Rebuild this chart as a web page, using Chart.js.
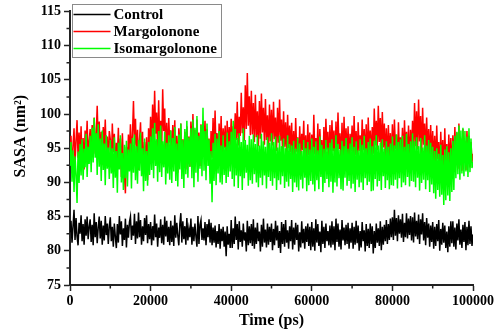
<!DOCTYPE html>
<html>
<head>
<meta charset="utf-8">
<script src="https://cdn.jsdelivr.net/npm/chart.js@4.4.1/dist/chart.umd.min.js"></script>
<style>
  html, body { margin: 0; padding: 0; background: #fff; }
  #wrap { width: 498px; height: 333px; position: relative; }
</style>
</head>
<body>
<div id="wrap"><canvas id="sasa-chart"></canvas></div>
<script>
// Sampling: one value every 250 ps, 0 .. 100000 ps
const timeStep = 250;

const seriesNames = ['Control', 'Margolonone', 'Isomargolonone'];
const seriesColors = ['#000000', '#ff0000', '#00ff00'];

const xTicks = [0, 20000, 40000, 60000, 80000, 100000];
const xMinorTicks = [10000, 30000, 50000, 70000, 90000];
const yTicks = [75, 80, 85, 90, 95, 100, 105, 110, 115];
const yMinorTicks = [77.5, 82.5, 87.5, 92.5, 97.5, 102.5, 107.5, 112.5];

// SASA (nm^2), one row = 5000 ps
const control = [
  82.7, 84.4, 81.2, 83.6, 86.0, 81.6, 84.8, 82.1, 80.8, 84.1, 82.5, 85.2, 81.4, 83.9, 80.9, 84.6, 82.2, 85.0, 81.7, 83.5,
  84.6, 81.3, 83.8, 80.8, 85.5, 82.0, 84.2, 81.1, 83.4, 85.0, 81.8, 84.4, 80.9, 83.7, 81.5, 85.1, 82.3, 84.0, 81.0, 83.6,
  84.9, 81.4, 83.5, 80.6, 84.0, 82.1, 80.4, 83.9, 81.2, 85.1, 82.4, 84.3, 80.7, 83.3, 81.6, 84.7, 80.5, 83.8, 81.9, 84.2,
  85.0, 81.6, 83.7, 82.2, 85.4, 81.0, 84.3, 81.8, 85.6, 82.0, 84.5, 80.9, 83.6, 81.4, 84.8, 82.3, 85.2, 81.1, 83.9, 81.7,
  84.2, 80.8, 83.6, 81.5, 85.3, 82.0, 84.0, 80.6, 83.4, 81.9, 84.6, 81.1, 83.8, 80.9, 85.0, 82.1, 84.4, 81.3, 83.5, 80.8,
  84.4, 81.3, 83.7, 80.7, 85.2, 81.9, 84.1, 82.2, 80.8, 83.9, 85.5, 81.2, 84.3, 81.7, 83.6, 80.9, 84.8, 81.5, 83.2, 82.0,
  84.7, 80.9, 83.5, 81.4, 84.0, 82.1, 80.6, 85.1, 81.0, 83.8, 84.5, 81.6, 83.3, 81.5, 84.2, 80.8, 83.9, 82.0, 84.6, 81.2,
  84.1, 80.8, 83.4, 81.2, 83.7, 80.5, 82.9, 81.0, 83.9, 80.3, 83.2, 81.4, 83.5, 80.6, 82.8, 79.2, 83.6, 80.9, 82.5, 80.4,
  84.5, 80.4, 83.3, 81.0, 85.0, 81.6, 83.9, 80.2, 84.3, 81.3, 83.0, 80.6, 84.0, 81.5, 82.7, 79.9, 84.4, 80.8, 83.6, 81.1,
  83.9, 80.7, 84.6, 80.3, 83.4, 81.0, 84.1, 81.4, 82.8, 79.9, 83.8, 80.6, 84.7, 81.2, 83.1, 80.5, 84.0, 80.9, 83.5, 81.3,
  84.0, 80.1, 83.2, 80.8, 84.4, 81.5, 83.7, 80.4, 82.9, 79.7, 84.2, 81.0, 83.9, 80.6, 84.5, 81.2, 83.0, 80.3, 83.6, 81.4,
  84.5, 80.2, 83.4, 80.9, 84.1, 81.6, 83.8, 79.9, 82.7, 80.5, 84.3, 81.1, 83.2, 80.3, 83.6, 81.3, 84.0, 80.7, 83.5, 80.1,
  84.2, 80.6, 83.3, 80.0, 84.6, 81.2, 83.9, 80.7, 82.8, 79.8, 84.4, 81.0, 83.5, 80.4, 84.0, 81.4, 82.9, 80.8, 83.7, 80.5,
  84.3, 80.9, 83.6, 80.1, 84.7, 81.3, 84.0, 80.6, 83.1, 80.2, 84.5, 81.5, 83.4, 80.8, 83.8, 81.0, 84.1, 80.3, 83.3, 81.2,
  84.1, 80.3, 83.5, 80.9, 84.4, 81.1, 83.7, 80.0, 82.9, 80.5, 84.2, 81.4, 83.0, 79.9, 83.9, 80.7, 83.2, 80.4, 84.0, 81.0,
  83.6, 79.6, 82.9, 80.4, 84.0, 81.2, 83.3, 80.7, 84.3, 80.1, 83.5, 80.9, 83.8, 81.4, 84.5, 81.0, 83.9, 81.6, 84.7, 82.0,
  84.9, 81.6, 86.0, 82.2, 84.8, 81.4, 85.2, 82.5, 84.6, 81.9, 85.4, 81.3, 84.1, 82.0, 85.5, 81.8, 84.7, 82.3, 85.1, 81.5,
  84.9, 81.2, 85.6, 82.1, 84.4, 81.7, 85.3, 81.0, 84.6, 82.4, 85.5, 81.5, 84.2, 80.8, 84.8, 81.9, 84.0, 80.6, 83.7, 81.3,
  84.2, 80.3, 83.5, 80.7, 83.9, 81.4, 84.5, 80.0, 83.2, 80.9, 84.1, 81.2, 83.7, 80.4, 82.8, 79.8, 83.6, 80.6, 84.3, 81.1,
  84.3, 80.6, 83.4, 80.2, 84.0, 81.5, 84.6, 80.9, 83.1, 80.4, 83.8, 81.3, 84.2, 80.1, 83.5, 80.8, 84.4, 81.0, 83.6, 80.7,
  82.4
];

const margolonone = [
  93.2, 96.8, 91.5, 95.4, 97.9, 92.8, 96.1, 99.1, 93.6, 97.3, 94.0, 98.2, 92.4, 96.5, 91.9, 97.6, 94.8, 99.0, 93.3, 96.0,
  97.8, 93.9, 98.4, 95.1, 99.5, 94.2, 97.0, 101.2, 95.6, 98.9, 93.7, 97.4, 92.6, 98.1, 95.3, 99.2, 94.1, 96.7, 92.9, 97.5,
  96.3, 92.2, 98.6, 94.4, 97.1, 91.6, 95.8, 93.5, 98.0, 92.0, 96.4, 90.8, 97.2, 93.1, 91.0, 88.4, 95.2, 92.5, 97.0, 93.8,
  98.5, 94.0, 96.9, 101.9, 95.5, 99.3, 93.4, 97.7, 91.8, 96.2, 98.8, 93.0, 97.4, 91.2, 95.9, 92.7, 96.6, 90.3, 97.9, 94.5,
  99.6, 95.2, 101.4, 96.0, 103.4, 97.1, 100.2, 94.7, 102.0, 96.4, 99.0, 95.0, 103.6, 97.5, 100.8, 94.3, 98.7, 93.6, 99.4, 95.8,
  97.6, 93.2, 98.4, 94.6, 99.1, 92.9, 96.8, 91.4, 97.9, 94.2, 98.6, 92.5, 96.3, 93.8, 97.4, 91.9, 98.2, 94.9, 96.7, 92.3,
  98.9, 94.4, 100.0, 95.1, 97.7, 93.0, 99.2, 94.6, 97.3, 92.4, 98.5, 93.7, 96.9, 95.5, 99.0, 93.3, 97.8, 94.1, 96.4, 91.7,
  97.5, 93.6, 99.4, 94.8, 100.5, 93.9, 97.2, 92.1, 98.6, 94.3, 99.7, 93.5, 97.9, 95.0, 98.3, 93.1, 99.0, 94.7, 98.1, 95.4,
  99.3, 94.9, 98.2, 95.7, 100.1, 96.2, 101.8, 95.4, 99.6, 96.8, 103.1, 97.2, 101.0, 96.1, 104.2, 97.8, 106.0, 98.3, 102.6, 96.9,
  103.4, 97.0, 101.6, 95.9, 102.8, 96.6, 100.4, 95.3, 101.9, 96.4, 103.0, 97.3, 100.9, 95.5, 102.2, 96.2, 99.8, 94.8, 101.4, 96.0,
  100.6, 95.4, 101.8, 96.3, 99.5, 94.6, 100.9, 95.8, 102.1, 96.1, 99.2, 94.3, 100.4, 95.2, 98.8, 93.9, 99.9, 95.0, 98.3, 94.4,
  98.7, 93.6, 97.5, 92.9, 99.4, 94.5, 96.6, 92.3, 98.2, 93.8, 97.1, 94.7, 99.0, 93.2, 96.9, 91.9, 98.5, 94.0, 97.3, 92.6,
  97.0, 92.8, 99.9, 94.1, 96.5, 93.4, 98.6, 92.0, 97.8, 94.3, 96.2, 91.6, 98.1, 93.7, 99.3, 94.8, 97.4, 92.5, 98.4, 93.1,
  99.1, 94.6, 97.6, 92.7, 98.9, 93.5, 100.2, 94.9, 97.2, 93.0, 98.7, 92.4, 99.6, 94.2, 97.9, 93.8, 98.2, 92.9, 97.1, 94.5,
  98.3, 93.4, 99.7, 94.0, 97.5, 92.8, 98.8, 94.6, 96.9, 93.6, 99.2, 94.7, 97.8, 93.1, 98.5, 92.6, 99.5, 94.3, 97.6, 93.9,
  98.1, 94.2, 100.8, 95.4, 99.0, 94.7, 101.2, 95.9, 99.4, 94.0, 100.3, 95.1, 98.6, 93.5, 97.9, 92.8, 98.4, 93.7, 97.2, 92.9,
  98.5, 93.3, 99.2, 94.9, 97.0, 92.2, 98.8, 94.1, 96.6, 93.6, 98.0, 92.7, 99.1, 94.4, 97.4, 93.0, 98.3, 92.4, 97.7, 94.2,
  99.0, 94.6, 101.6, 95.3, 100.4, 94.8, 102.1, 96.0, 99.7, 94.1, 100.9, 95.5, 98.6, 93.8, 99.5, 94.3, 97.8, 92.9, 98.4, 93.5,
  97.5, 92.6, 96.8, 91.9, 98.3, 93.4, 95.9, 91.2, 97.4, 92.8, 96.2, 90.9, 97.9, 92.3, 95.6, 91.5, 97.0, 92.1, 96.5, 91.3,
  96.9, 92.4, 98.1, 93.5, 97.3, 92.0, 98.6, 93.1, 96.4, 91.7, 97.8, 92.9, 96.1, 91.8, 97.5, 93.6, 96.8, 92.2, 95.9, 93.0,
  94.2
];

const isomargolonone = [
  92.4, 95.9, 90.1, 94.7, 88.6, 93.8, 91.2, 87.0, 94.5, 89.9, 95.6, 91.0, 96.3, 90.4, 94.9, 92.2, 97.1, 90.8, 95.2, 92.7,
  96.8, 91.5, 98.0, 92.9, 99.4, 93.6, 97.2, 91.1, 98.5, 92.3, 96.4, 90.2, 97.6, 91.8, 95.7, 89.6, 96.9, 92.0, 95.1, 90.5,
  96.2, 91.3, 95.0, 89.2, 96.6, 90.7, 94.6, 88.5, 95.8, 91.9, 96.9, 90.0, 94.3, 88.9, 95.5, 90.6, 96.1, 89.4, 94.8, 91.6,
  95.7, 89.1, 96.5, 91.4, 97.0, 90.3, 95.3, 89.8, 96.2, 91.7, 97.3, 90.9, 95.0, 88.7, 96.4, 90.2, 94.6, 89.5, 95.9, 91.1,
  96.7, 91.8, 97.9, 90.6, 98.7, 92.4, 96.3, 90.1, 97.5, 91.5, 98.3, 90.8, 96.0, 92.2, 97.4, 89.7, 95.8, 91.3, 96.9, 90.4,
  97.6, 89.9, 96.5, 91.6, 98.1, 90.2, 95.7, 89.4, 97.0, 91.9, 98.6, 90.5, 96.2, 89.2, 97.8, 91.2, 99.0, 90.7, 96.6, 92.3,
  97.9, 90.6, 99.2, 89.3, 98.0, 91.4, 99.7, 90.1, 96.8, 92.0, 98.4, 90.9, 100.9, 91.7, 97.5, 90.3, 98.6, 92.4, 96.3, 89.8,
  94.6, 87.1, 95.8, 90.2, 97.1, 89.6, 96.4, 91.3, 97.5, 90.0, 95.4, 89.7, 96.9, 91.1, 95.2, 89.9, 97.3, 90.8, 96.0, 91.6,
  97.4, 90.5, 99.0, 89.4, 97.8, 91.0, 96.5, 89.2, 97.2, 90.9, 95.9, 88.9, 97.9, 90.6, 96.2, 91.4, 95.5, 89.5, 96.8, 90.3,
  96.3, 89.8, 97.0, 91.2, 95.6, 90.0, 96.9, 89.3, 95.4, 90.7, 97.1, 89.6, 96.0, 91.0, 95.2, 89.1, 96.6, 90.8, 95.8, 90.2,
  97.2, 89.5, 95.9, 90.6, 96.7, 88.9, 95.1, 90.3, 96.8, 89.7, 95.3, 90.9, 96.4, 89.2, 95.0, 90.1, 96.9, 89.4, 95.6, 90.5,
  95.4, 88.6, 96.1, 90.0, 94.9, 89.3, 96.5, 88.8, 95.7, 90.4, 94.6, 89.1, 96.2, 90.7, 95.0, 88.7, 95.9, 89.6, 94.8, 90.2,
  96.4, 89.7, 95.2, 88.7, 96.0, 90.3, 94.7, 89.0, 96.7, 90.8, 95.5, 88.6, 94.9, 89.9, 96.2, 90.5, 95.1, 89.3, 95.8, 90.1,
  96.3, 88.5, 95.0, 90.0, 96.9, 89.4, 95.6, 90.6, 94.8, 89.0, 96.1, 88.8, 95.3, 90.7, 96.5, 89.5, 94.9, 90.2, 95.7, 89.1,
  96.6, 89.8, 95.2, 88.6, 96.0, 90.4, 94.7, 89.3, 96.3, 90.0, 95.5, 88.9, 96.8, 90.6, 95.0, 89.6, 95.9, 90.1, 96.4, 88.7,
  95.3, 88.8, 96.1, 90.5, 96.9, 89.4, 95.4, 90.2, 95.8, 88.9, 96.3, 90.9, 94.9, 89.2, 96.0, 90.3, 95.2, 89.0, 95.7, 89.6,
  96.7, 89.5, 95.4, 90.4, 97.0, 89.1, 95.9, 90.6, 96.3, 89.3, 96.8, 90.0, 95.2, 89.6, 97.1, 90.8, 95.6, 89.4, 96.0, 90.2,
  97.2, 90.1, 96.0, 89.3, 96.6, 90.7, 95.3, 88.8, 96.5, 89.9, 95.1, 90.4, 96.9, 89.0, 95.4, 90.3, 96.2, 88.6, 95.8, 89.7,
  95.2, 88.4, 94.6, 87.6, 95.0, 88.9, 94.2, 87.9, 95.5, 88.2, 94.0, 86.7, 94.8, 87.4, 95.3, 88.1, 94.4, 87.3, 95.0, 88.6,
  96.1, 88.9, 96.8, 90.6, 97.4, 91.2, 98.3, 90.4, 97.6, 91.3, 98.0, 90.9, 97.5, 91.6, 96.7, 90.8, 97.9, 91.5, 96.4, 92.1,
  93.0
];

const serifBold = (size) => ({ family: '"Liberation Serif", "Times New Roman", serif', size: size, weight: 'bold' });

function toPoints(values) {
  return values.map((v, i) => ({ x: i * timeStep, y: v }));
}

// minor ticks + framed legend, drawn after the chart
const extrasPlugin = {
  id: 'extras',
  afterDraw(chart) {
    const { ctx, chartArea, scales } = chart;
    ctx.save();
    ctx.strokeStyle = '#222';
    ctx.lineWidth = 1.5;
    ctx.beginPath();
    xMinorTicks.forEach(v => {
      const px = scales.x.getPixelForValue(v);
      ctx.moveTo(px, chartArea.bottom);
      ctx.lineTo(px, chartArea.bottom + 3.5);
    });
    yMinorTicks.forEach(v => {
      const py = scales.y.getPixelForValue(v);
      ctx.moveTo(chartArea.left, py);
      ctx.lineTo(chartArea.left - 3.5, py);
    });
    ctx.stroke();

    // legend
    const box = { left: 72.5, top: 4.5, width: 149, height: 53 };
    ctx.fillStyle = '#fff';
    ctx.fillRect(box.left, box.top, box.width, box.height);
    ctx.strokeStyle = '#8a8a8a';
    ctx.lineWidth = 1;
    ctx.strokeRect(box.left, box.top, box.width, box.height);
    ctx.font = 'bold 15px "Liberation Serif", serif';
    ctx.textBaseline = 'middle';
    seriesNames.forEach((name, i) => {
      const cy = box.top + 10 + i * 17;
      ctx.strokeStyle = seriesColors[i];
      ctx.lineWidth = 1.5;
      ctx.beginPath();
      ctx.moveTo(box.left + 1, cy);
      ctx.lineTo(box.left + 38, cy);
      ctx.stroke();
      ctx.fillStyle = '#000';
      ctx.fillText(name, box.left + 41, cy + 1);
    });
    ctx.restore();
  }
};

const datasetValues = [control, margolonone, isomargolonone];
// control on top, then isomargolonone, margolonone at the back
const drawOrder = [0, 2, 1];

new Chart(document.getElementById('sasa-chart'), {
  type: 'line',
  data: {
    datasets: seriesNames.map((name, i) => ({
      label: name,
      data: toPoints(datasetValues[i]),
      borderColor: seriesColors[i],
      backgroundColor: seriesColors[i],
      borderWidth: 1.5,
      pointRadius: 0,
      tension: 0,
      order: drawOrder[i]
    }))
  },
  options: {
    responsive: true,
    maintainAspectRatio: false,
    animation: false,
    layout: { padding: { left: 0, right: 25, top: 7, bottom: 0 } },
    plugins: {
      legend: { display: false },
      tooltip: { enabled: false }
    },
    scales: {
      x: {
        type: 'linear',
        min: 0,
        max: 100000,
        afterBuildTicks: (scale) => { scale.ticks = xTicks.map(v => ({ value: v })); },
        afterFit: (scale) => { scale.height = 48; },
        ticks: {
          color: '#000',
          font: serifBold(14),
          padding: 2,
          maxRotation: 0,
          autoSkip: false,
          callback: (v) => String(v)
        },
        grid: { drawOnChartArea: false, tickLength: 6, tickWidth: 1.5, tickColor: '#222' },
        border: { display: true, color: '#222', width: 2 },
        title: {
          display: true,
          text: 'Time (ps)',
          color: '#000',
          font: serifBold(16),
          padding: { top: 0, bottom: 3 }
        }
      },
      y: {
        min: 75,
        max: 115,
        afterBuildTicks: (scale) => { scale.ticks = yTicks.map(v => ({ value: v })); },
        afterFit: (scale) => { scale.width = 70; },
        ticks: {
          color: '#000',
          font: serifBold(14),
          padding: 3
        },
        grid: { drawOnChartArea: false, tickLength: 6, tickWidth: 1.5, tickColor: '#222' },
        border: { display: true, color: '#222', width: 2 },
        title: {
          display: true,
          // leading spaces lift the rotated title a little, as in the original
          text: '      SASA (nm²)',
          color: '#000',
          font: serifBold(16),
          padding: { top: 11, bottom: 0 }
        }
      }
    }
  },
  plugins: [extrasPlugin]
});
</script>
</body>
</html>
